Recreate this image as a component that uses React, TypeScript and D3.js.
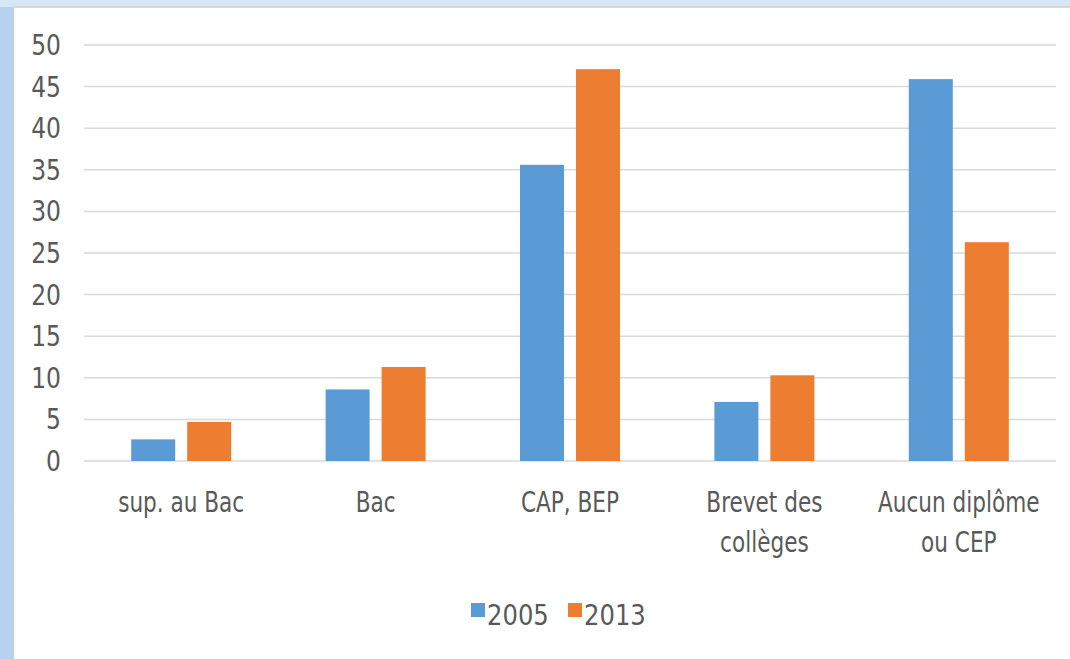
import React from "react";
import * as d3 from "d3";

const categories: string[][] = [["sup. au Bac"], ["Bac"], ["CAP, BEP"], ["Brevet des", "collèges"], ["Aucun diplôme", "ou CEP"]];
const series2005: number[] = [2.6, 8.6, 35.6, 7.1, 45.9];
const series2013: number[] = [4.7, 11.3, 47.1, 10.3, 26.3];
const seriesNames: string[] = ["2005", "2013"];
const yTicks: number[] = [0, 5, 10, 15, 20, 25, 30, 35, 40, 45, 50];

const W = 1070, H = 659;
const COLORS = ["#5b9bd5", "#ed7d31"];
const FONT = "'DejaVu Sans Condensed', 'DejaVu Sans', sans-serif";
const TXT = "#595959";

export default function App() {
  const left = 84, right = 1056, top = 45, bottom = 461;
  const x = d3.scaleBand<number>().domain(d3.range(categories.length)).range([left, right]).paddingInner(0).paddingOuter(0);
  const y = d3.scaleLinear().domain([0, 50]).range([bottom, top]);
  const barW = 44, gap = 12;
  const data = [series2005, series2013];

  return (
    <div style={{ position: "fixed", left: 0, top: 0 }}>
      <svg width={W} height={H} style={{ display: "block" }}>
        <defs>
          <linearGradient id="lb" x1="0" x2="1" y1="0" y2="0">
            <stop offset="0" stopColor="#b7d2ee" />
            <stop offset="1" stopColor="#c9ddf2" />
          </linearGradient>
        </defs>
        <rect x={0} y={0} width={W} height={H} fill="url(#lb)" />
        <rect x={0} y={0} width={W} height={7} fill="#d7e6f5" />
        <rect x={13} y={6} width={W - 13} height={2} fill="#d6d8db" />
        <rect x={14} y={8} width={W - 14} height={H - 8} fill="#ffffff" />
        {yTicks.map((t) => (
          <g key={t}>
            <line x1={left} x2={right} y1={y(t)} y2={y(t)} stroke="#d9d9d9" strokeWidth={1.5} />
            <text transform={`translate(61,${y(t) + 10}) scale(1,1.1)`} textAnchor="end" fontFamily={FONT} fontSize={26} fill={TXT}>{t}</text>
          </g>
        ))}
        {data.map((s, si) =>
          s.map((v, i) => {
            const cx = (x(i) as number) + x.bandwidth() / 2;
            const bx = si === 0 ? cx - gap / 2 - barW : cx + gap / 2;
            return <rect key={si + "-" + i} x={bx} y={y(v)} width={barW} height={y(0) - y(v)} fill={COLORS[si]} />;
          })
        )}
        {categories.map((lines, i) => {
          const cx = (x(i) as number) + x.bandwidth() / 2;
          return (
            <g key={i}>
              {lines.map((l, j) => (
                <text key={j} transform={`translate(${cx},${512 + j * 40}) scale(1,1.15)`} textAnchor="middle" fontFamily={FONT} fontSize={24} fill={TXT}>{l}</text>
              ))}
            </g>
          );
        })}
        {seriesNames.map((n, i) => {
          const lx = 471 + i * 97;
          return (
            <g key={n}>
              <rect x={lx} y={603} width={14} height={14} fill={COLORS[i]} />
              <text transform={`translate(${lx + 16},625) scale(1,1.03)`} fontFamily={FONT} fontSize={27} fill={TXT}>{n}</text>
            </g>
          );
        })}
      </svg>
    </div>
  );
}
